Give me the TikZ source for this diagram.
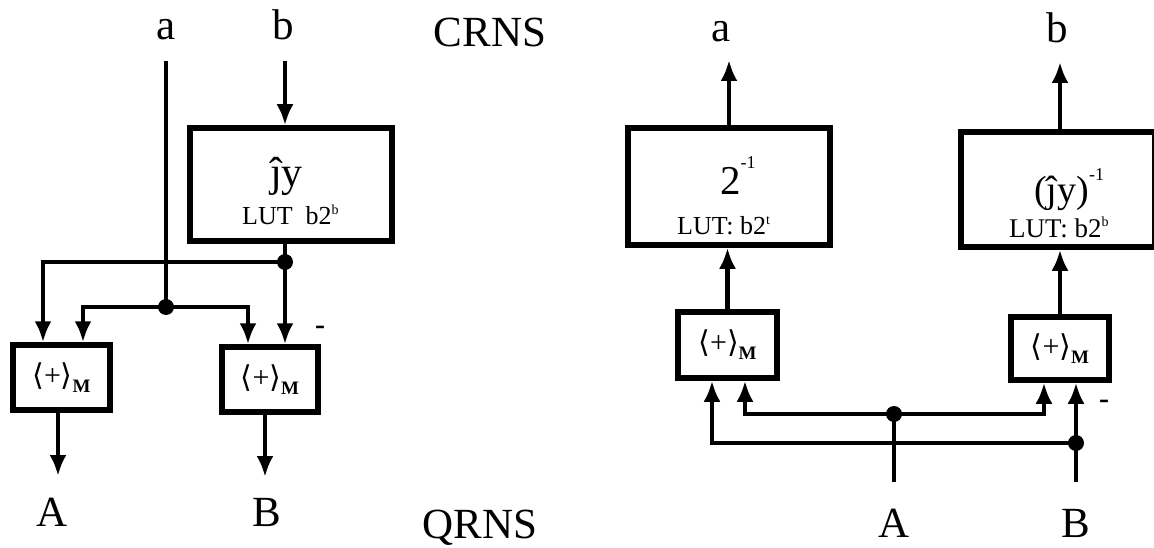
\documentclass[tikz,border=0pt]{standalone}
\usepackage{fontspec}
\setmainfont{Liberation Serif}
\newfontfamily\brk{DejaVu Sans}
\usetikzlibrary{arrows.meta,calc}
\newcommand{\plusM}{{\fontsize{30}{30}\selectfont{\brk ⟨}+{\brk ⟩}}\raisebox{-7pt}{\fontsize{19}{19}\selectfont\textbf{M}}}
\newcommand{\supr}[3]{\raisebox{#1}{\fontsize{#2}{#2}\selectfont #3}}
\begin{document}
\begin{tikzpicture}[x=1pt,y=-1pt,
  wire/.style={line width=4.5pt},
  arr/.style={wire,-{Latex[length=21pt,width=17pt]}},
  blk/.style={draw,line width=5.5pt,inner sep=0pt},
  lbl/.style={inner sep=0pt,anchor=base,font=\fontsize{43}{43}\selectfont},
  boxtxt/.style={inner sep=0pt,anchor=base west},
  jn/.style={circle,fill,inner sep=0pt,minimum size=16pt},
  minusmark/.style={inner sep=0pt,anchor=base,font=\fontsize{30}{30}\selectfont\bfseries},
  ]
\useasboundingbox (0,0) rectangle (1154,548);

% ---------------- left: CRNS -> QRNS ----------------
\node[blk,minimum width=202pt,minimum height=113pt] (jyL) at (291,184.5) {};
\node[blk,minimum width=97pt,minimum height=65pt] (L1) at (61.5,377.5) {\plusM};
\node[blk,minimum width=96pt,minimum height=65pt] (L2) at (270,379.5) {\plusM};

\node[boxtxt,font=\fontsize{42}{42}\selectfont] (jyLt) at (270,187) {ĵy};
\node[boxtxt,font=\fontsize{26}{26}\selectfont] (jyLlut) at (242,225) {LUT\ \ b2\supr{10pt}{14}{b}};

\node[lbl] (la) at (166,40) {a};
\node[lbl] (lb) at (283,40) {b};
\node[lbl] (lA) at (52,526) {A};
\node[lbl] (lB) at (267,526) {B};
\node[lbl] (crns) at (490,47) {CRNS};
\node[lbl] (qrns) at (480,538) {QRNS};

\coordinate (aTop) at (166,61);
\coordinate (bTop) at (285,61);
\node[jn] (d1) at (285,262) {};
\node[jn] (d2) at (166,307) {};
\coordinate (c1) at (43,262);
\coordinate (c2) at (83,307);
\coordinate (c3) at (248,307);
\coordinate (oA) at (58,476);
\coordinate (oB) at (265,477);

\draw[wire] (aTop) -- (d2.center);
\draw[arr] (bTop) -- (bTop |- jyL.north);
\draw[wire] (jyL.south -| d1) -- (d1.center);
\draw[arr] (d1.center) -- (d1 |- L2.north);
\draw[arr] (d1.center) -- (c1) -- (c1 |- L1.north);
\draw[arr] (d2.center) -- (c2) -- (c2 |- L1.north);
\draw[arr] (d2.center) -- (c3) -- (c3 |- L2.north);
\draw[arr] (L1.south -| oA) -- (oA);
\draw[arr] (L2.south -| oB) -- (oB);

\node[minusmark] (mL) at (320,334) {-};

% ---------------- right: QRNS -> CRNS ----------------
\node[blk,minimum width=202pt,minimum height=117pt] (inv2) at (729,186.5) {};
\node[blk,minimum width=194pt,minimum height=115pt] (invJ) at (1058,189.5) {};
\node[blk,minimum width=99pt,minimum height=66pt] (R1) at (727.5,345) {\plusM};
\node[blk,minimum width=98pt,minimum height=63pt] (R2) at (1060,348.5) {\plusM};

\node[boxtxt,font=\fontsize{41}{41}\selectfont] (inv2t) at (720,195) {2\supr{26pt}{18}{-1}};
\node[boxtxt,font=\fontsize{26}{26}\selectfont] (inv2lut) at (677,235) {LUT: b2\supr{10pt}{14}{t}};
\node[boxtxt,font=\fontsize{38}{38}\selectfont] (invJt) at (1034,203) {(ĵy)\supr{22pt}{18}{-1}};
\node[boxtxt,font=\fontsize{27}{27}\selectfont] (invJlut) at (1009,237) {LUT: b2\supr{10pt}{14}{b}};

\node[lbl] (ra) at (721,42) {a};
\node[lbl] (rb) at (1057,43) {b};
\node[lbl] (rA) at (894,537) {A};
\node[lbl] (rB) at (1076,537) {B};

\coordinate (raTip) at (729,60);
\coordinate (rbTip) at (1060,62);
\node[jn] (d3) at (894,414) {};
\node[jn] (d4) at (1076,443) {};
\coordinate (inA) at (894,482);
\coordinate (inB) at (1076,482);
\coordinate (k1) at (745,414);
\coordinate (k2) at (1044,414);
\coordinate (k3) at (712,443);

\draw[arr] (inv2.north) -- (raTip);
\draw[arr] (invJ.north -| rbTip) -- (rbTip);
\draw[arr] (R1.north) -- (R1.north |- inv2.south);
\draw[arr] (R2.north) -- (R2.north |- invJ.south);
\draw[wire] (inA) -- (d3.center);
\draw[arr] (d3.center) -- (k1) -- (k1 |- R1.south);
\draw[arr] (d3.center) -- (k2) -- (k2 |- R2.south);
\draw[arr] (inB) -- (inB |- R2.south);
\draw[arr] (d4.center) -- (k3) -- (k3 |- R1.south);

\node[minusmark] (mR) at (1104,408) {-};
\end{tikzpicture}
\end{document}
